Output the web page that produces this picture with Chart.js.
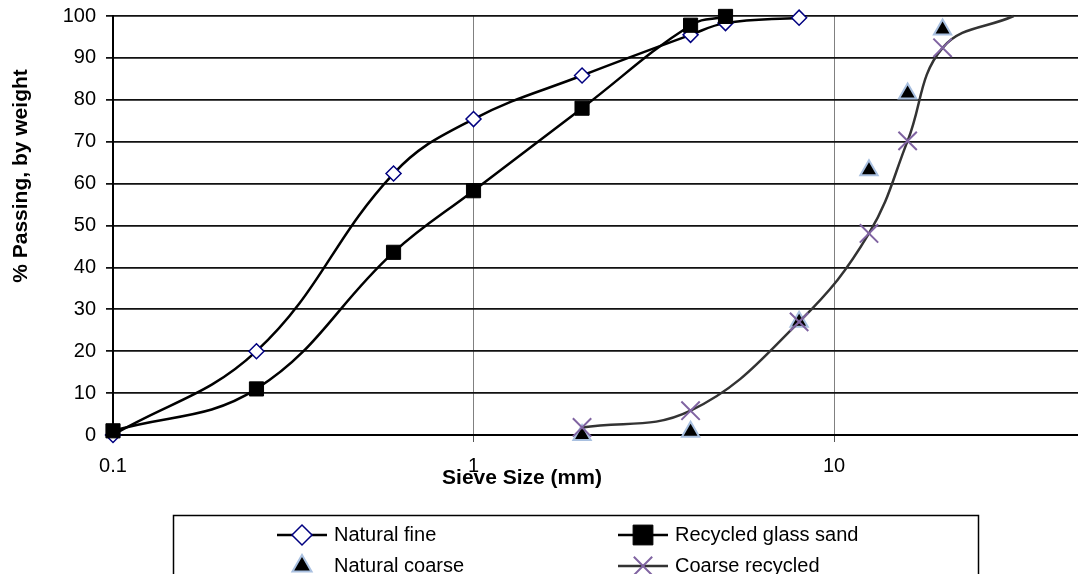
<!DOCTYPE html>
<html>
<head>
<meta charset="utf-8">
<script src="https://cdn.jsdelivr.net/npm/chart.js"></script>
<style>
  html, body { margin: 0; padding: 0; background: #fff; overflow: hidden; }
  #wrap { width: 1078px; height: 574px; }
  canvas { display: block; }
</style>
</head>
<body>
<div id="wrap"><canvas id="chart" width="1078" height="574"></canvas></div>
<script>
// sieve sizes (mm) and % passing
const fineSizes = [0.1, 0.25, 0.6, 1, 2, 4, 5, 8];
const naturalFine = [0, 20, 62.4, 75.4, 85.8, 95.5, 98.3, 99.6];

const glassSizes = [0.1, 0.25, 0.6, 1, 2, 4, 5];
const recycledGlassSand = [1, 11, 43.6, 58.3, 78, 97.8, 99.9];

const coarseSizes = [2, 4, 8, 12.5, 16, 20];
const naturalCoarse = [0, 0.8, 27, 63.2, 81.5, 96.8];

const recycledSizes = [2, 4, 8, 12.5, 16, 20, 31.5];
const coarseRecycled = [1.8, 5.8, 27, 48.1, 70.2, 92.4, 100];

const xTicks = [0.1, 1, 10];
const xTickLabels = ['0.1', '1', '10'];

const FONT = '"Liberation Sans", Arial, sans-serif';
Chart.defaults.font.family = FONT;
Chart.defaults.color = '#000';

function pairs(xs, ys) {
  return xs.map((x, i) => ({ x: x, y: ys[i] }));
}

// axis titles + 2 column boxed legend drawn by hand
const bottomLegend = {
  id: 'bottomLegend',
  afterDraw(chart) {
    const ctx = chart.ctx;
    ctx.save();
    ctx.fillStyle = '#000';
    ctx.font = 'bold 21px ' + FONT;
    ctx.textAlign = 'center';
    ctx.textBaseline = 'middle';
    ctx.fillText('Sieve Size (mm)', 522, 478);

    ctx.save();
    ctx.translate(21, 176);
    ctx.rotate(-Math.PI / 2);
    ctx.fillText('% Passing, by weight', 0, 0);
    ctx.restore();

    ctx.strokeStyle = '#000';
    ctx.lineWidth = 1.5;
    ctx.strokeRect(173.5, 515.5, 805, 100);

    const slots = [[302, 535], [643, 535], [302, 566], [643, 566]];
    const sizes = [10, 14, 11, 13];
    chart.data.datasets.forEach((ds, i) => {
      const [mx, my] = slots[i];
      if (ds.showLine !== false) {
        ctx.strokeStyle = ds.borderColor;
        ctx.lineWidth = 2.5;
        ctx.beginPath();
        ctx.moveTo(mx - 25, my);
        ctx.lineTo(mx + 25, my);
        ctx.stroke();
      }
      ctx.fillStyle = ds.pointBackgroundColor;
      ctx.strokeStyle = ds.pointBorderColor;
      ctx.lineWidth = ds.pointBorderWidth;
      Chart.helpers.drawPoint(ctx, {
        pointStyle: ds.pointStyle, rotation: 0, radius: sizes[i], borderWidth: ds.pointBorderWidth
      }, mx, my);
      ctx.fillStyle = '#000';
      ctx.font = '20px ' + FONT;
      ctx.textAlign = 'left';
      ctx.fillText(ds.label, mx + 32, my);
    });
    ctx.restore();
  }
};

new Chart(document.getElementById('chart'), {
  type: 'line',
  data: {
    datasets: [
      {
        label: 'Natural fine',
        data: pairs(fineSizes, naturalFine),
        borderColor: '#000', borderWidth: 2.5,
        pointStyle: 'rectRot', pointRadius: 7.5,
        pointBorderColor: '#000080', pointBackgroundColor: '#fff', pointBorderWidth: 1.5,
        tension: 0.4, order: 4, clip: false
      },
      {
        label: 'Recycled glass sand',
        data: pairs(glassSizes, recycledGlassSand),
        borderColor: '#000', borderWidth: 2.5,
        pointStyle: 'rect', pointRadius: 10,
        pointBorderColor: '#000', pointBackgroundColor: '#000', pointBorderWidth: 1,
        tension: 0.4, order: 3, clip: false
      },
      {
        label: 'Natural coarse',
        data: pairs(coarseSizes, naturalCoarse),
        showLine: false,
        borderColor: '#000',
        pointStyle: 'triangle', pointRadius: 10,
        pointBorderColor: '#a9c0e0', pointBackgroundColor: '#000', pointBorderWidth: 2,
        order: 2, clip: false
      },
      {
        label: 'Coarse recycled',
        data: pairs(recycledSizes, coarseRecycled),
        borderColor: '#333', borderWidth: 2.5,
        pointStyle: 'crossRot', pointRadius: [13, 13, 13, 13, 13, 13, 0],
        pointBorderColor: '#8064a2', pointBackgroundColor: '#8064a2', pointBorderWidth: 2,
        tension: 0.4, order: 1, clip: false
      }
    ]
  },
  options: {
    responsive: false,
    animation: false,
    events: [],
    layout: { autoPadding: false, padding: { top: 16, right: 0, left: 0, bottom: 0 } },
    plugins: { legend: { display: false }, tooltip: { enabled: false } },
    scales: {
      x: {
        type: 'logarithmic',
        min: 0.1, max: 47.5,
        afterBuildTicks: s => { s.ticks = xTicks.map(v => ({ value: v })); },
        afterFit: s => { s.height = 139; s.paddingLeft = 0; s.paddingRight = 0; },
        ticks: {
          callback: v => xTickLabels[xTicks.indexOf(v)],
          font: { size: 20 }, color: '#000', padding: 12,
          maxRotation: 0, autoSkip: false
        },
        grid: { color: '#808080', lineWidth: 1, tickLength: 7, tickColor: '#555' },
        border: { color: '#000', width: 2 }
      },
      y: {
        min: 0, max: 100,
        afterFit: s => { s.width = 113; s.paddingTop = 0; s.paddingBottom = 0; },
        ticks: { stepSize: 10, font: { size: 20 }, color: '#000', padding: 10 },
        grid: { color: '#111', lineWidth: 1.75, tickLength: 7, tickColor: '#111' },
        border: { color: '#000', width: 2 }
      }
    }
  },
  plugins: [bottomLegend]
});
</script>
</body>
</html>
